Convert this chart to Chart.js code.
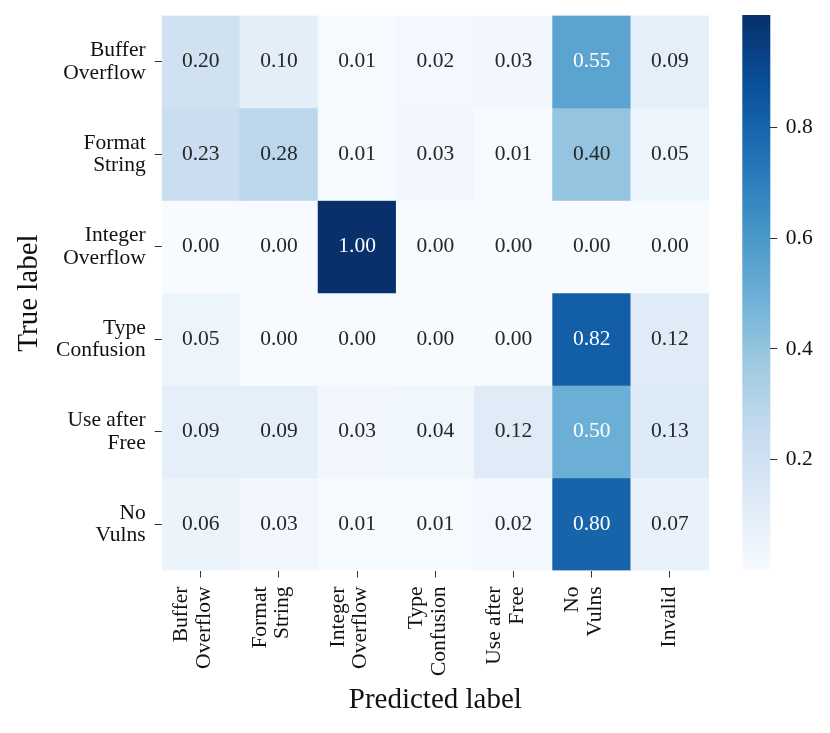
<!DOCTYPE html>
<html>
<head>
<meta charset="utf-8">
<script src="https://cdn.jsdelivr.net/npm/chart.js@4.4.1/dist/chart.umd.min.js"></script>
<style>
  html, body { margin: 0; padding: 0; background: #fff; }
  #wrap { position: relative; width: 830px; height: 733px; }
  #wrap canvas { position: absolute; left: 0; top: 0; }
</style>
</head>
<body>
<div id="wrap">
  <canvas id="heat" width="830" height="733"></canvas>
  <canvas id="cbar" width="830" height="733"></canvas>
</div>
<script>
// axis labels (true label = rows, predicted label = columns)
const trueLabels = [['Buffer', 'Overflow'], ['Format', 'String'], ['Integer', 'Overflow'],
                    ['Type', 'Confusion'], ['Use after', 'Free'], ['No', 'Vulns']];
const predLabels = [['Buffer', 'Overflow'], ['Format', 'String'], ['Integer', 'Overflow'],
                    ['Type', 'Confusion'], ['Use after', 'Free'], ['No', 'Vulns'], ['', 'Invalid']];

// one array per true label
const rowBufferOverflow  = [0.20, 0.10, 0.01, 0.02, 0.03, 0.55, 0.09];
const rowFormatString    = [0.23, 0.28, 0.01, 0.03, 0.01, 0.40, 0.05];
const rowIntegerOverflow = [0.00, 0.00, 1.00, 0.00, 0.00, 0.00, 0.00];
const rowTypeConfusion   = [0.05, 0.00, 0.00, 0.00, 0.00, 0.82, 0.12];
const rowUseAfterFree    = [0.09, 0.09, 0.03, 0.04, 0.12, 0.50, 0.13];
const rowNoVulns         = [0.06, 0.03, 0.01, 0.01, 0.02, 0.80, 0.07];
const matrix = [rowBufferOverflow, rowFormatString, rowIntegerOverflow,
                rowTypeConfusion, rowUseAfterFree, rowNoVulns];

// colorbar ticks
const cbarTicks = [0.2, 0.4, 0.6, 0.8];

// matplotlib "Blues"
const bluesStops = ['#f7fbff', '#deebf7', '#c6dbef', '#9ecae1', '#6baed6',
                    '#4292c6', '#2171b5', '#08519c', '#08306b'];

function hexToRgb(h) {
    return [1, 3, 5].map(i => parseInt(h.substr(i, 2), 16));
}

function blues(t) {
    t = Math.min(1, Math.max(0, t));
    const n = bluesStops.length - 1;
    const i = Math.min(n - 1, Math.floor(t * n));
    const f = t * n - i;
    const a = hexToRgb(bluesStops[i]), b = hexToRgb(bluesStops[i + 1]);
    return a.map((v, k) => Math.round(v + (b[k] - v) * f));
}

// same rule seaborn uses to pick annotation colour
function textColor(v) {
    const lin = c => { c /= 255; return c <= 0.03928 ? c / 12.92 : Math.pow((c + 0.055) / 1.055, 2.4); };
    const [r, g, b] = blues(v);
    const lum = 0.2126 * lin(r) + 0.7152 * lin(g) + 0.0722 * lin(b);
    return lum > 0.408 ? '#262626' : '#ffffff';
}

Chart.defaults.font.family = '"Liberation Serif", "DejaVu Serif", serif';
Chart.defaults.color = '#111';

const FONT = 21.5;
const tickFont = { size: FONT, lineHeight: '22.6px' };

// annotations in each cell
const cellText = {
    id: 'cellText',
    afterDatasetsDraw(chart) {
        const ctx = chart.ctx;
        ctx.save();
        ctx.font = FONT + 'px "Liberation Serif"';
        ctx.textAlign = 'center';
        ctx.textBaseline = 'middle';
        chart.data.datasets.forEach((ds, r) => {
            chart.getDatasetMeta(r).data.forEach((bar, c) => {
                const v = matrix[r][c];
                ctx.fillStyle = textColor(v);
                ctx.fillText(v.toFixed(2), bar.x, (bar.y + bar.base) / 2);
            });
        });
        ctx.restore();
    }
};

const heatDatasets = matrix.map((row, r) => ({
    label: trueLabels[r].join(' '),
    data: row.map(() => [r, r + 1]),
    backgroundColor: row.map(v => 'rgb(' + blues(v).join(',') + ')'),
    borderWidth: 0,
    barPercentage: 1,
    categoryPercentage: 1,
    grouped: false
}));

new Chart(document.getElementById('heat'), {
    type: 'bar',
    data: { labels: predLabels, datasets: heatDatasets },
    options: {
        responsive: false,
        animation: false,
        layout: { padding: { left: 0, top: 15.5, right: 121, bottom: 0 } },
        plugins: { legend: { display: false }, tooltip: { enabled: false } },
        scales: {
            x: {
                type: 'category',
                offset: true,
                grid: { offset: false, drawOnChartArea: false, tickLength: 7, color: '#333' },
                border: { display: false },
                ticks: {
                    autoSkip: false,
                    minRotation: 90,
                    maxRotation: 90,
                    padding: 9,
                    labelOffset: -19,
                    font: ctx => ctx.index === 6 ? { size: FONT, lineHeight: '18px' } : tickFont
                },
                title: {
                    display: true,
                    text: 'Predicted label',
                    color: '#111',
                    font: { size: 29 },
                    padding: { top: 0, bottom: 15 }
                },
                afterFit: s => { s.height = 733 - 570.5; s.paddingLeft = 0; s.paddingRight = 0; }
            },
            y: {
                type: 'linear',
                min: 0,
                max: 6,
                reverse: true,
                afterBuildTicks: s => { s.ticks = trueLabels.map((_, i) => ({ value: i + 0.5 })); },
                grid: { drawOnChartArea: false, tickLength: 7, color: '#333' },
                border: { display: false },
                ticks: {
                    autoSkip: false,
                    padding: 9,
                    font: tickFont,
                    callback: v => trueLabels[Math.floor(v)]
                },
                title: {
                    display: true,
                    text: 'True label',
                    color: '#111',
                    font: { size: 29 },
                    padding: { top: 12, bottom: 0 }
                },
                afterFit: s => { s.width = 161.7; s.paddingTop = 0; s.paddingBottom = 0; }
            }
        }
    },
    plugins: [cellText]
});

// colorbar gradient behind the colorbar axis
const cbarFill = {
    id: 'cbarFill',
    beforeDraw(chart) {
        const { ctx, chartArea: a, scales: { y } } = chart;
        const g = ctx.createLinearGradient(0, y.getPixelForValue(0), 0, y.getPixelForValue(1));
        bluesStops.forEach((c, i) => g.addColorStop(i / (bluesStops.length - 1), c));
        ctx.save();
        ctx.fillStyle = g;
        ctx.fillRect(a.left, a.top, a.right - a.left, a.bottom - a.top);
        ctx.restore();
    }
};

new Chart(document.getElementById('cbar'), {
    type: 'bar',
    data: { labels: [''], datasets: [] },
    options: {
        responsive: false,
        animation: false,
        layout: { padding: { left: 742.3, right: 830 - 770.3 - 50, top: 15, bottom: 163 } },
        plugins: { legend: { display: false }, tooltip: { enabled: false } },
        scales: {
            x: { display: false },
            y: {
                type: 'linear',
                position: 'right',
                min: 0,
                max: 1.004,
                afterBuildTicks: s => { s.ticks = cbarTicks.map(v => ({ value: v })); },
                grid: { drawOnChartArea: false, tickLength: 7, color: '#333' },
                border: { display: false },
                ticks: { padding: 8.5, font: { size: FONT }, callback: v => v.toFixed(1) },
                afterFit: s => { s.width = 50; s.paddingTop = 0; s.paddingBottom = 0; }
            }
        }
    },
    plugins: [cbarFill]
});
</script>
</body>
</html>
